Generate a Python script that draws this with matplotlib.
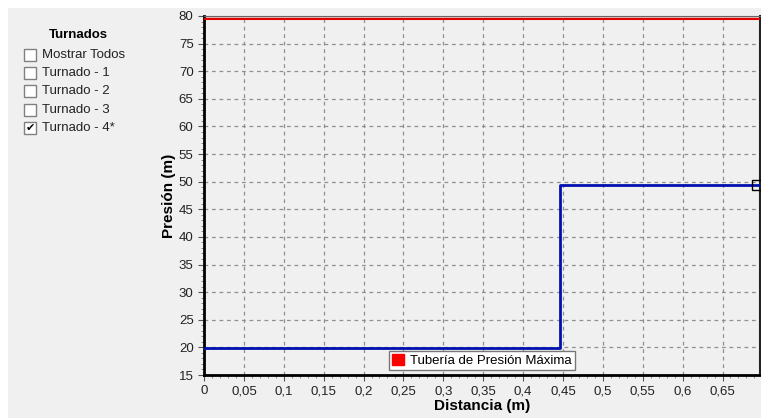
import numpy as np
import matplotlib.pyplot as plt
from matplotlib.patches import Rectangle
from matplotlib.ticker import MultipleLocator, FuncFormatter

# datos
dist = [0.0, 0.446, 0.446, 0.697]
presion = [19.9, 19.9, 49.4, 49.4]
presion_max = 79.5
x_max = 0.697
turnados = ["Mostrar Todos", "Turnado - 1", "Turnado - 2", "Turnado - 3", "Turnado - 4*"]
marcados = [False, False, False, False, True]

plt.rcParams['font.family'] = ['Liberation Sans', 'DejaVu Sans']
bg = "#f0f0f0"

fig = plt.figure(figsize=(7.61, 4.18), dpi=100, facecolor="white")
# fondo gris con margen blanco arriba e izquierda
fig.patches.append(Rectangle((8/761, 0), 1, 1 - 8/418, transform=fig.transFigure,
                             facecolor=bg, edgecolor="none", zorder=-10))

ax = fig.add_axes([204/761, 1 - 375/418, 556/761, 359/418])
ax.set_facecolor(bg)

ax.axhspan(presion_max, 80, color="#e8a0a0", alpha=0.6, lw=0, zorder=2)
ax.plot([0, x_max], [presion_max, presion_max], color="#e00000", lw=1.5, zorder=3)
ax.plot(dist, presion, color="#0010b0", lw=2, zorder=4)
ax.plot(dist[-1] - 0.004, presion[-1], marker="s", ms=7, mfc="none", mec="black", mew=1, zorder=5, clip_on=False)

ax.set_xlim(0, x_max)
ax.set_ylim(15, 80)
ax.xaxis.set_major_locator(MultipleLocator(0.05))
ax.xaxis.set_minor_locator(MultipleLocator(0.01))
ax.yaxis.set_major_locator(MultipleLocator(5))
ax.yaxis.set_minor_locator(MultipleLocator(1))
ax.xaxis.set_major_formatter(FuncFormatter(lambda v, p: ("%g" % round(v, 2)).replace(".", ",")))
ax.grid(True, which="major", color="#909090", ls=(0, (3, 3)), lw=0.9)
ax.tick_params(axis="both", which="major", labelsize=9.5, length=4, color="#555555", labelcolor="#222222")
ax.tick_params(axis="both", which="minor", length=2, color="#777777")

for s in ["left", "bottom"]:
    ax.spines[s].set_linewidth(2)
    ax.spines[s].set_color("black")
ax.spines["top"].set_color("#666666")
ax.spines["right"].set_color("#222222")
ax.spines["right"].set_linewidth(1.5)

ax.set_xlabel("Distancia (m)", fontsize=11, fontweight="bold", labelpad=1)
ax.set_ylabel("Presión (m)", fontsize=11, fontweight="bold", labelpad=2)

leg = ax.legend(handles=[Rectangle((0, 0), 1, 1, color="red")], labels=["Tubería de Presión Máxima"],
                loc="lower center", bbox_to_anchor=(0.5, -0.005), fontsize=9.5, fancybox=False,
                framealpha=1, facecolor="white", edgecolor="#777777", handlelength=0.9, handleheight=0.9,
                handletextpad=0.5, borderpad=0.25)
leg.get_frame().set_linewidth(1)

# panel izquierdo
fig.text(78/761, 1 - 35/418, "Turnados", fontsize=9.5, fontweight="bold", ha="center", va="center")
for i, (t, m) in enumerate(zip(turnados, marcados)):
    yc = 1 - (55 + i * 18.2) / 418
    fig.patches.append(Rectangle((24/761, yc - 6/418), 12/761, 12/418, transform=fig.transFigure,
                                 facecolor="white", edgecolor="#808080", lw=1))
    if m:
        fig.text(30/761, yc, "✔", fontsize=8, ha="center", va="center", family=['DejaVu Sans'])
    fig.text(42/761, yc, t, fontsize=9.5, ha="left", va="center", color="#222222")

plt.savefig("out.png", dpi=100, facecolor="white")
